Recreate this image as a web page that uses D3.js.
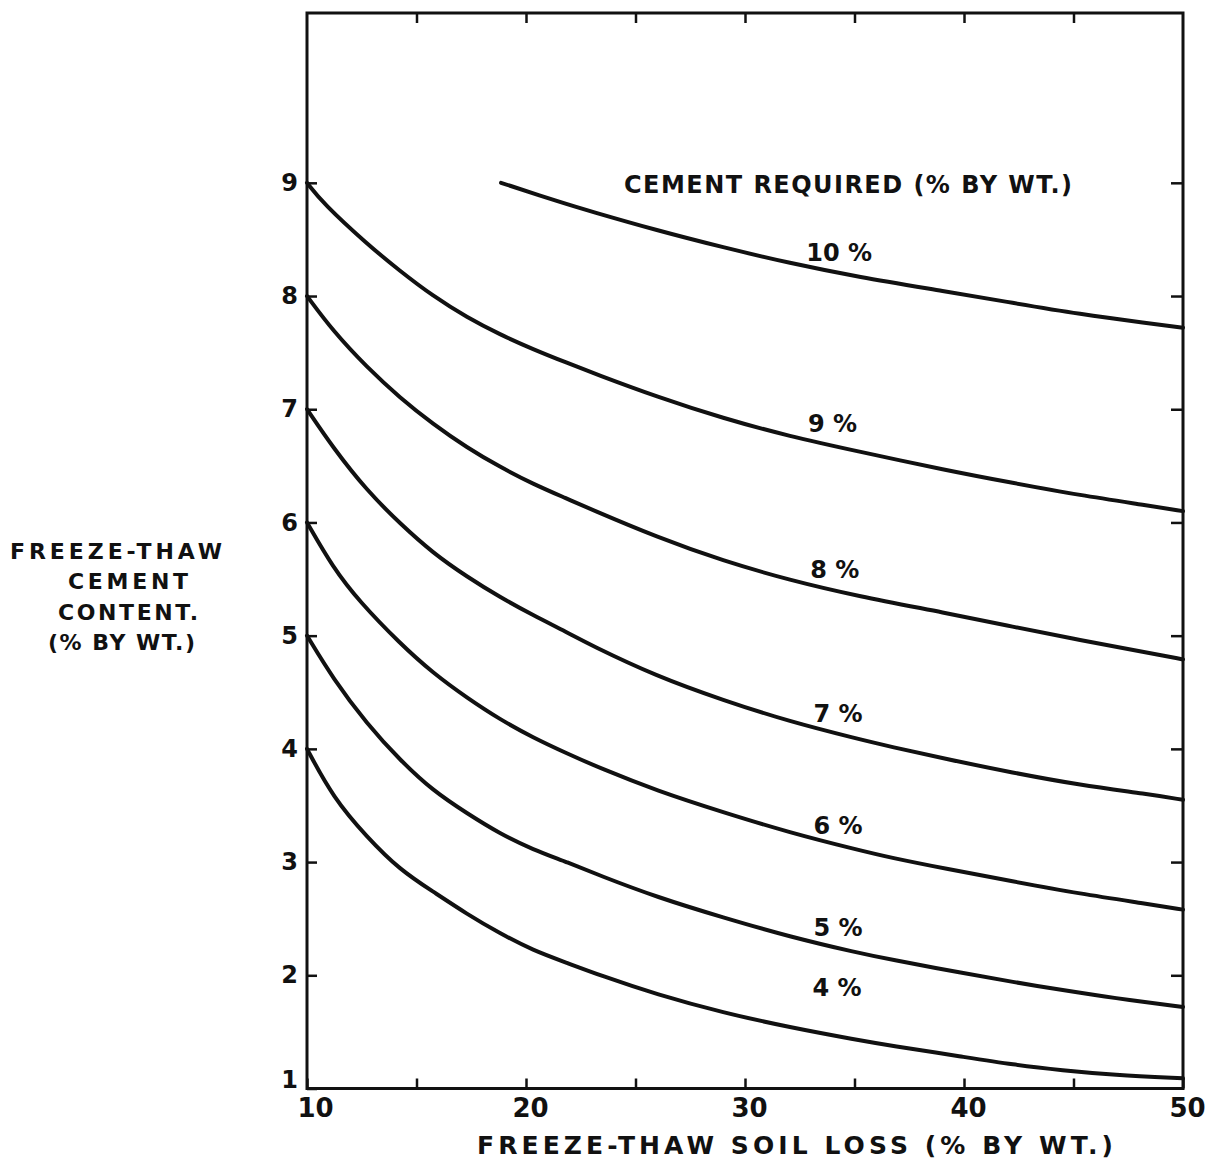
<!DOCTYPE html>
<html>
<head>
<meta charset="utf-8">
<script src="https://cdn.jsdelivr.net/npm/d3@7"></script>
<style>
  body { margin: 0; background: #fff; }
  text { font-family: "DejaVu Sans", "Liberation Sans", sans-serif; font-weight: bold; fill: #111; }
  .tick line { stroke: #111; stroke-width: 2.5; }
  .curve { fill: none; stroke: #111; stroke-width: 4; stroke-linecap: round; }
</style>
</head>
<body>
<div id="chart"></div>
<script>
// freeze-thaw soil loss (% by wt.) vs freeze-thaw cement content (% by wt.)
const cement4 = [[10,4],[11.19,3.57],[12.74,3.22],[14.25,2.93],[15.75,2.74],[17.31,2.54],[18.81,2.37],[20.32,2.22],[21.87,2.11],[23.38,2.0],[25.98,1.83],[29,1.67],[32.05,1.54],[35.11,1.43],[36.62,1.38],[39.95,1.28],[42.24,1.21],[44.5,1.16],[46.8,1.12],[50,1.09]];
const cement5 = [[10,5],[11.19,4.62],[12.74,4.22],[14.25,3.9],[15.75,3.63],[17.31,3.43],[18.81,3.25],[20.32,3.11],[21.87,3.0],[23.38,2.88],[25.98,2.69],[29,2.51],[32.05,2.34],[35.11,2.2],[36.62,2.14],[39.95,2.02],[42.24,1.94],[44.5,1.87],[46.8,1.8],[50,1.72]];
const cement6 = [[10,6],[11.19,5.6],[12.4,5.3],[14.25,4.93],[15.75,4.67],[17.31,4.45],[18.81,4.26],[20.32,4.1],[21.87,3.96],[23.38,3.83],[25.98,3.63],[29,3.44],[32.05,3.26],[35.11,3.11],[36.62,3.04],[39.2,2.94],[42.2,2.83],[45.3,2.72],[48.4,2.63],[50,2.58]];
const cement7 = [[10,7],[11.19,6.66],[12.74,6.28],[14.25,5.99],[15.75,5.73],[17.31,5.52],[18.81,5.34],[20.32,5.18],[21.87,5.03],[22.92,4.92],[25.98,4.64],[29,4.43],[32.05,4.24],[35.11,4.09],[36.62,4.02],[39.2,3.91],[42.2,3.79],[45.3,3.68],[48.4,3.6],[50,3.55]];
const cement8 = [[10,8],[11.19,7.69],[12.74,7.37],[14.25,7.1],[15.75,6.87],[17.31,6.66],[18.81,6.49],[20.32,6.34],[21.87,6.21],[22.92,6.12],[25.98,5.87],[29,5.66],[32.05,5.49],[35.11,5.35],[39.2,5.2],[42.2,5.08],[45.3,4.96],[48.4,4.85],[50,4.79]];
const cement9 = [[10,9],[10.73,8.82],[12.74,8.46],[14.25,8.22],[15.75,8.0],[17.31,7.81],[18.81,7.66],[20.32,7.53],[21.87,7.41],[23.2,7.31],[25.98,7.11],[29,6.92],[32.05,6.76],[35.11,6.63],[39.2,6.46],[42.2,6.35],[45.3,6.24],[48.4,6.15],[50,6.1]];
const cement10 = [[18.86,9.0],[21.55,8.83],[22.92,8.75],[25.98,8.58],[29,8.43],[32.05,8.29],[35.11,8.17],[39.2,8.04],[42.2,7.94],[45.3,7.84],[48.4,7.76],[50,7.72]];

const curveNames = ["4 %", "5 %", "6 %", "7 %", "8 %", "9 %", "10 %"];
// label anchor for each curve, in data units
const labelX = [34.2, 34.25, 34.25, 34.25, 34.1, 34.0, 34.3];
const labelY = [1.89, 2.42, 3.32, 4.31, 5.58, 6.87, 8.38];

const xTicks = [10, 15, 20, 25, 30, 35, 40, 45, 50];
const xTickLabels = [10, 20, 30, 40, 50];
const yTicks = [1, 2, 3, 4, 5, 6, 7, 8, 9];

const curves = [cement4, cement5, cement6, cement7, cement8, cement9, cement10];

const width = 1205, height = 1162;
const margin = { top: 13, right: 22, bottom: 73.5, left: 307 };

const svg = d3.select('#chart').append('svg')
    .attr('width', width)
    .attr('height', height);

svg.append('rect').attr('width', width).attr('height', height).attr('fill', '#fff');

const xScale = d3.scaleLinear().domain([10, 50]).range([margin.left, width - margin.right]);
const yScale = d3.scaleLinear().domain([1, 10.5]).range([height - margin.bottom, margin.top]);

// axes, ticks pointing inward
const xAxis = d3.axisBottom(xScale)
    .tickValues(xTicks)
    .tickSizeInner(-10).tickSizeOuter(0).tickPadding(10)
    .tickFormat(d => xTickLabels.includes(d) ? d : '');

const xAxisTop = d3.axisTop(xScale)
    .tickValues(xTicks.slice(1, -1))
    .tickSizeInner(-10).tickSizeOuter(0)
    .tickFormat('');

const yAxis = d3.axisLeft(yScale)
    .tickValues(yTicks)
    .tickSizeInner(-10).tickSizeOuter(0).tickPadding(9);

const yAxisRight = d3.axisRight(yScale)
    .tickValues(yTicks.slice(1))
    .tickSizeInner(-12).tickSizeOuter(0)
    .tickFormat('');

const gx = svg.append('g')
    .attr('transform', `translate(0,${height - margin.bottom})`)
    .call(xAxis);
gx.selectAll('.tick text')
    .attr('dx', d => d === 10 ? 8 : 4)
    .style('font-size', '26px');

svg.append('g')
    .attr('transform', `translate(0,${margin.top})`)
    .call(xAxisTop);

const gy = svg.append('g')
    .attr('transform', `translate(${margin.left},0)`)
    .call(yAxis);
gy.selectAll('.tick text')
    .attr('dy', d => d === 1 ? '-0.05em' : '0.32em')
    .style('font-size', '24px');

svg.append('g')
    .attr('transform', `translate(${width - margin.right},0)`)
    .call(yAxisRight);

svg.selectAll('.domain').remove();

// frame
svg.append('rect')
    .attr('x', xScale(10))
    .attr('y', yScale(10.5))
    .attr('width', xScale(50) - xScale(10))
    .attr('height', yScale(1) - yScale(10.5))
    .attr('fill', 'none')
    .attr('stroke', '#111')
    .attr('stroke-width', 3);

const line = d3.line()
    .x(d => xScale(d[0]))
    .y(d => yScale(d[1]))
    .curve(d3.curveBasis);

svg.selectAll('.curve')
    .data(curves)
    .join('path')
    .attr('class', 'curve')
    .attr('d', line);

svg.selectAll('.curve-label')
    .data(curveNames)
    .join('text')
    .attr('class', 'curve-label')
    .attr('x', (d, i) => xScale(labelX[i]))
    .attr('y', (d, i) => yScale(labelY[i]))
    .attr('text-anchor', 'middle')
    .attr('dominant-baseline', 'central')
    .style('font-size', '24px')
    .text(d => d);

// titles
svg.append('text')
    .attr('x', 624)
    .attr('y', 185)
    .attr('dominant-baseline', 'central')
    .attr('textLength', 448)
    .attr('lengthAdjust', 'spacing')
    .style('font-size', '24px')
    .text('CEMENT  REQUIRED (% BY WT.)');

svg.append('text')
    .attr('x', 477)
    .attr('y', 1145)
    .attr('dominant-baseline', 'central')
    .attr('textLength', 636)
    .attr('lengthAdjust', 'spacing')
    .style('font-size', '25px')
    .text('FREEZE-THAW  SOIL  LOSS  (% BY WT.)');

const yTitle = [
    { t: 'FREEZE-THAW', x: 10, w: 212 },
    { t: 'CEMENT', x: 68, w: 120 },
    { t: 'CONTENT.', x: 58, w: 140 },
    { t: '(% BY  WT.)', x: 48, w: 147 }
];
svg.selectAll('.y-title')
    .data(yTitle)
    .join('text')
    .attr('class', 'y-title')
    .attr('x', d => d.x)
    .attr('y', (d, i) => 551 + i * 30.5)
    .attr('dominant-baseline', 'central')
    .attr('textLength', d => d.w)
    .attr('lengthAdjust', 'spacing')
    .style('font-size', '22px')
    .text(d => d.t);
</script>
</body>
</html>
